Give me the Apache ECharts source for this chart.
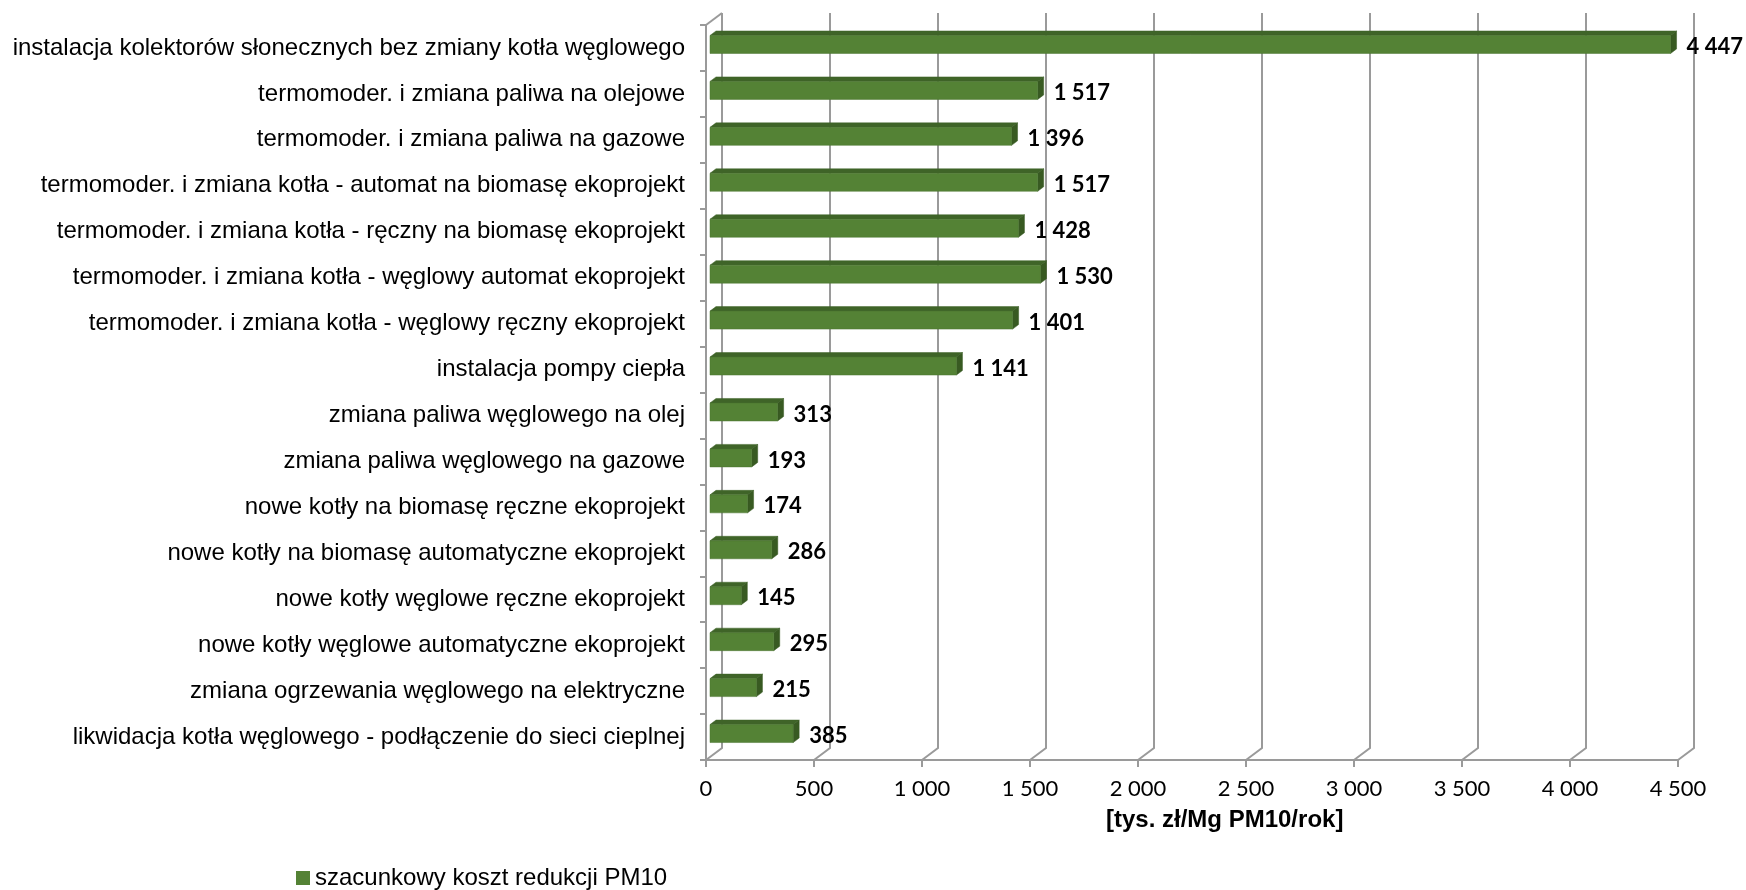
<!DOCTYPE html>
<html>
<head>
<meta charset="utf-8">
<script src="https://cdn.jsdelivr.net/npm/echarts@6/dist/echarts.min.js"></script>
<style>
html,body{margin:0;padding:0;background:#fff;}
#chart{width:1746px;height:890px;}
</style>
</head>
<body>
<div id="chart"></div>
<script>
var categories = [
  "instalacja kolektorów słonecznych bez zmiany kotła węglowego",
  "termomoder. i zmiana paliwa na olejowe",
  "termomoder. i zmiana paliwa na gazowe",
  "termomoder. i zmiana kotła - automat na biomasę ekoprojekt",
  "termomoder. i zmiana kotła - ręczny na biomasę ekoprojekt",
  "termomoder. i zmiana kotła - węglowy automat ekoprojekt",
  "termomoder. i zmiana kotła - węglowy ręczny ekoprojekt",
  "instalacja pompy ciepła",
  "zmiana paliwa węglowego na olej",
  "zmiana paliwa węglowego na gazowe",
  "nowe kotły na biomasę ręczne ekoprojekt",
  "nowe kotły na biomasę automatyczne ekoprojekt",
  "nowe kotły węglowe ręczne ekoprojekt",
  "nowe kotły węglowe automatyczne ekoprojekt",
  "zmiana ogrzewania węglowego na elektryczne",
  "likwidacja kotła węglowego - podłączenie do sieci cieplnej"
];
var costValues = [4447, 1517, 1396, 1517, 1428, 1530, 1401, 1141, 313, 193, 174, 286, 145, 295, 215, 385];
var xTicks = [0, 500, 1000, 1500, 2000, 2500, 3000, 3500, 4000, 4500];
var seriesName = "szacunkowy koszt redukcji PM10";
var axisTitle = "[tys. zł/Mg PM10/rok]";

function fmt(v){ return String(v).replace(/\B(?=(\d{3})+(?!\d))/g, ' '); }

var barData = costValues.map(function(v, i){ return [i, v]; });
var wallData = xTicks.map(function(v){ return [v]; });

var GRAY = '#9a9a9a';
var WX = 16, WY = 12;       // wall depth
var BX = 6, BY = 4.5;       // bar depth
var BOFF = 4;               // bar front offset

var chart = echarts.init(document.getElementById('chart'));
chart.setOption({
  animation: false,
  backgroundColor: '#fff',
  grid: { left: 706, right: 68, top: 25, bottom: 130, containLabel: false },
  xAxis: {
    type: 'value', min: 0, max: 4500, interval: 500,
    axisLine: { show: true, lineStyle: { color: GRAY, width: 2 } },
    axisTick: { show: true, length: 7, lineStyle: { color: GRAY, width: 2 } },
    splitLine: { show: false },
    axisLabel: { margin: 18, color: '#000', fontFamily: 'Lato', fontSize: 22, formatter: function(v){ return fmt(v); } }
  },
  yAxis: {
    type: 'category', inverse: true, data: categories,
    axisLine: { show: true, lineStyle: { color: GRAY, width: 2 } },
    axisTick: { show: true, length: 6, lineStyle: { color: GRAY, width: 2 } },
    axisLabel: { margin: 21, color: '#000', fontFamily: 'Liberation Sans, Arial', fontSize: 24 }
  },
  legend: {
    left: 291, top: 861, itemWidth: 14, itemHeight: 14, itemGap: 10,
    icon: 'rect',
    data: [{ name: seriesName, itemStyle: { color: '#548235' } }],
    textStyle: { color: '#000', fontFamily: 'Liberation Sans, Arial', fontSize: 24 }
  },
  graphic: [{
    type: 'text', left: 1106, top: 808,
    style: { text: axisTitle, font: 'bold 24px "Liberation Sans", Arial', fill: '#000' }
  }],
  series: [
    {
      type: 'custom', name: 'walls', silent: true, z: 1,
      data: wallData,
      encode: { x: 0 },
      renderItem: function(params, api){
        var v = api.value(0);
        var p = api.coord([v, 0]);
        var cs = params.coordSys;
        var x = p[0], bottom = cs.y + cs.height, top = cs.y;
        var children = [{
          type: 'polyline',
          shape: { points: [[x, bottom], [x + WX, bottom - WY], [x + WX, top - WY]] },
          style: { stroke: GRAY, lineWidth: 2, fill: null }
        }];
        if (v === 0) {
          children.push({
            type: 'line',
            shape: { x1: x, y1: top, x2: x + WX, y2: top - WY },
            style: { stroke: GRAY, lineWidth: 2 }
          });
        }
        return { type: 'group', children: children };
      }
    },
    {
      type: 'custom', name: seriesName, z: 3,
      itemStyle: { color: '#548235' },
      data: barData,
      encode: { y: 0, x: 1 },
      renderItem: function(params, api){
        var idx = api.value(0), v = api.value(1);
        var s = api.coord([0, idx]);
        var e = api.coord([v, idx]);
        var cy = e[1] - 3.5, h = 18;
        var x0 = s[0] + BOFF, x1 = e[0] + BOFF, y0 = cy - h / 2, y1 = cy + h / 2;
        return {
          type: 'group',
          children: [
            { type: 'polygon', shape: { points: [[x0, y0], [x0 + BX, y0 - BY], [x1 + BX, y0 - BY], [x1, y0]] },
              style: { fill: '#3f6428', stroke: '#3f6428', lineWidth: 0.5 } },
            { type: 'polygon', shape: { points: [[x1, y0], [x1 + BX, y0 - BY], [x1 + BX, y1 - BY], [x1, y1]] },
              style: { fill: '#385a22', stroke: '#385a22', lineWidth: 0.5 } },
            { type: 'rect', shape: { x: x0, y: y0, width: x1 - x0, height: h },
              style: { fill: '#548235', stroke: '#4a7530', lineWidth: 0.5 } },
            { type: 'text', style: { text: fmt(v), x: e[0] + 20, y: e[1] - 1,
              align: 'left', verticalAlign: 'middle', textAlign: 'left', textVerticalAlign: 'middle',
              font: 'bold 22px Lato', fill: '#000' } }
          ]
        };
      }
    }
  ]
});
</script>
</body>
</html>
